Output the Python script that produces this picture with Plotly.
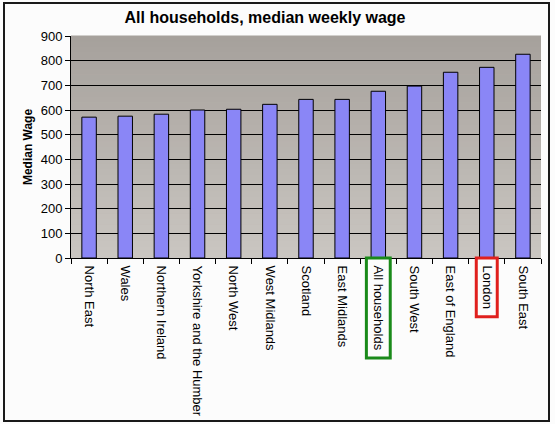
import plotly.graph_objects as go

# NOTE: data
regions = [
    "North East",
    "Wales",
    "Northern Ireland",
    "Yorkshire and the Humber",
    "North West",
    "West Midlands",
    "Scotland",
    "East Midlands",
    "All households",
    "South West",
    "East of England",
    "London",
    "South East",
]
median_wage = [571, 575, 583, 600, 603, 623, 643, 643, 676, 697, 753, 773, 826]
y_ticks = [0, 100, 200, 300, 400, 500, 600, 700, 800, 900]

W, H = 555, 424
ML, MR, MT, MB = 71, 14, 36, 166
PW, PH = W - ML - MR, H - MT - MB


def px_to_paper(x=None, y=None):
    # pixel position in the page -> paper coordinates of the plot area
    if x is not None:
        return (x - ML) / PW
    return (H - MB - y) / PH


fig = go.Figure(
    data=[
        go.Bar(
            x=regions,
            y=median_wage,
            marker=dict(color="#8a86f6", line=dict(color="black", width=1)),
            hoverinfo="x+y",
        )
    ]
)

# background gradient of the plot area, dark on top, light at the bottom
shapes = []
n_bands = 40
top_rgb, bottom_rgb = (166, 161, 156), (202, 198, 193)
for i in range(n_bands):
    t = i / (n_bands - 1)
    rgb = [round(b + (a - b) * t) for a, b in zip(top_rgb, bottom_rgb)]
    shapes.append(
        dict(
            type="rect",
            xref="x domain",
            yref="y domain",
            x0=0,
            x1=1,
            y0=i / n_bands,
            y1=(i + 1) / n_bands + 0.002,
            fillcolor="rgb(%d,%d,%d)" % tuple(rgb),
            line=dict(width=0),
            layer="below",
        )
    )

# highlight boxes round two tick labels
highlight = {"All households": ("#1a8a1a", 0.33, 0.45), "London": ("#e0201e", 0.29, 0.265)}
for name, (colour, half, depth) in highlight.items():
    idx = regions.index(name)
    shapes.append(
        dict(
            type="rect",
            xref="x",
            yref="paper",
            x0=idx - half,
            x1=idx + half,
            y0=-depth,
            y1=0.0,
            line=dict(color=colour, width=3),
        )
    )

# outer frame round the whole chart
shapes.append(
    dict(
        type="rect",
        xref="paper",
        yref="paper",
        x0=px_to_paper(x=4),
        x1=px_to_paper(x=549),
        y0=px_to_paper(y=421),
        y1=px_to_paper(y=3),
        line=dict(color="#1a1a1a", width=2),
    )
)

fig.update_layout(
    width=W,
    height=H,
    margin=dict(l=ML, r=MR, t=MT, b=MB, autoexpand=False),
    title=dict(
        text="<b>All households, median weekly wage</b>",
        x=265 / W,
        xanchor="center",
        y=1 - 17 / H,
        yanchor="middle",
        font=dict(family="Arial, Liberation Sans", size=16, color="black"),
    ),
    font=dict(family="Arial, Liberation Sans", size=13, color="black"),
    paper_bgcolor="#fcfcfc",
    plot_bgcolor="#b8b3ae",
    bargap=0.6,
    showlegend=False,
    shapes=shapes,
)

fig.update_xaxes(
    type="category",
    tickangle=90,
    tickson="boundaries",
    ticks="outside",
    ticklen=5,
    tickcolor="black",
    ticklabelstandoff=4,
    showline=True,
    linecolor="black",
    linewidth=1,
    showgrid=False,
    tickfont=dict(size=13),
)
fig.update_yaxes(
    range=[0, 900],
    tickvals=y_ticks,
    ticks="outside",
    ticklen=5,
    tickcolor="black",
    showline=True,
    linecolor="black",
    linewidth=1,
    showgrid=False,
    zeroline=False,
    minor=dict(tickvals=y_ticks[1:-1], showgrid=True, gridcolor="black", gridwidth=1, ticks=""),
    title=dict(text="<b>Median Wage</b>", font=dict(size=12), standoff=5),
    tickfont=dict(size=13),
)

# the page body has a default margin; drop it so the figure sits at 0,0
fig.write_html(
    "out.html",
    config={"displayModeBar": False},
    post_script="document.body.style.margin='0';",
)
